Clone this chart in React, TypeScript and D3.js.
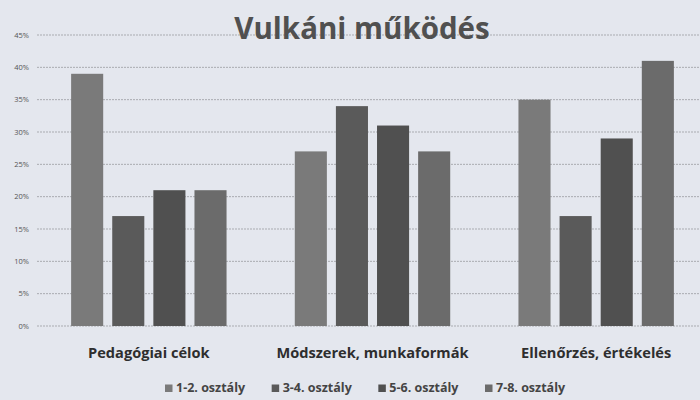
import React, { useRef, useEffect } from "react";
import * as d3 from "d3";

const categories = ["Pedagógiai célok", "Módszerek, munkaformák", "Ellenőrzés, értékelés"];
const seriesNames = ["1-2. osztály", "3-4. osztály", "5-6. osztály", "7-8. osztály"];
const values1 = [39, 27, 35];
const values2 = [17, 34, 17];
const values3 = [21, 31, 29];
const values4 = [21, 27, 41];
const yTicks = [0, 5, 10, 15, 20, 25, 30, 35, 40, 45];

const colors = ["#7a7a7a", "#5a5a5a", "#505050", "#6b6b6b"];

const App: React.FC = () => {
  const chartRef = useRef<SVGSVGElement | null>(null);

  useEffect(() => {
    if (!chartRef.current) return;
    const svg = d3.select(chartRef.current);
    svg.selectAll("*").remove();

    const width = 700;
    const height = 400;
    const margin = { top: 35, right: -8, bottom: 74, left: 37 };
    const font = "'Open Sans', 'DejaVu Sans', sans-serif";

    svg.attr("width", width).attr("height", height).attr("viewBox", `0 0 ${width} ${height}`);

    svg.append("rect").attr("width", width).attr("height", height).attr("fill", "#e4e7ee");

    const series = [values1, values2, values3, values4];
    const rows = categories.map((c, i) => ({
      category: c,
      values: series.map((s, j) => ({ name: seriesNames[j], value: s[i] })),
    }));

    const x0 = d3
      .scaleBand<string>()
      .domain(categories)
      .range([margin.left, width - margin.right]);

    const x1 = d3
      .scaleBand<string>()
      .domain(seriesNames)
      .range([0, x0.bandwidth()])
      .paddingInner(0.22)
      .paddingOuter(0.83);

    const y = d3
      .scaleLinear()
      .domain([0, 45])
      .range([height - margin.bottom, margin.top]);

    // gridlines
    svg
      .append("g")
      .selectAll("line")
      .data(yTicks)
      .join("line")
      .attr("x1", margin.left)
      .attr("x2", width)
      .attr("y1", (d) => y(d))
      .attr("y2", (d) => y(d))
      .attr("stroke", "#a9abb0")
      .attr("stroke-width", 1)
      .attr("stroke-dasharray", "2,1");

    // y labels
    svg
      .append("g")
      .selectAll("text")
      .data(yTicks)
      .join("text")
      .attr("x", 29)
      .attr("y", (d) => y(d))
      .attr("dy", "0.35em")
      .attr("text-anchor", "end")
      .attr("font-family", font)
      .attr("font-size", 7.5)
      .attr("fill", "#555")
      .text((d) => `${d}%`);

    // bars
    const groups = svg
      .append("g")
      .selectAll("g")
      .data(rows)
      .join("g")
      .attr("transform", (d) => `translate(${x0(d.category)},0)`);

    groups
      .selectAll("rect")
      .data((d) => d.values)
      .join("rect")
      .attr("x", (d) => x1(d.name) || 0)
      .attr("width", x1.bandwidth())
      .attr("y", (d) => y(d.value))
      .attr("height", (d) => y(0) - y(d.value))
      .attr("fill", (d, i) => colors[i]);

    // category labels
    svg
      .append("g")
      .selectAll("text")
      .data(categories)
      .join("text")
      .attr("x", (d) => (x0(d) || 0) + x0.bandwidth() / 2)
      .attr("y", 358)
      .attr("text-anchor", "middle")
      .attr("font-family", font)
      .attr("font-size", 14.6)
      .attr("font-weight", "bold")
      .attr("fill", "#2e2e2e")
      .text((d) => d);

    // title
    svg
      .append("text")
      .attr("x", 362)
      .attr("y", 39)
      .attr("text-anchor", "middle")
      .attr("font-family", font)
      .attr("font-size", 29.5)
      .attr("font-weight", "bold")
      .attr("fill", "#505050")
      .text("Vulkáni működés");

    // legend
    const legendX = d3.scalePoint<string>().domain(seriesNames).range([165, 485]);
    const legend = svg
      .append("g")
      .selectAll("g")
      .data(seriesNames)
      .join("g")
      .attr("transform", (d) => `translate(${legendX(d)},392)`);

    legend
      .append("rect")
      .attr("x", 0)
      .attr("y", -7.5)
      .attr("width", 7.5)
      .attr("height", 7.5)
      .attr("fill", (d, i) => colors[i]);

    legend
      .append("text")
      .attr("x", 11)
      .attr("y", 0)
      .attr("font-family", font)
      .attr("font-size", 12.5)
      .attr("font-weight", "bold")
      .attr("fill", "#444")
      .text((d) => d);
  }, []);

  return (
    <div style={{ position: "absolute", left: 0, top: 0 }}>
      <svg ref={chartRef} style={{ display: "block" }} />
    </div>
  );
};

export default App;
